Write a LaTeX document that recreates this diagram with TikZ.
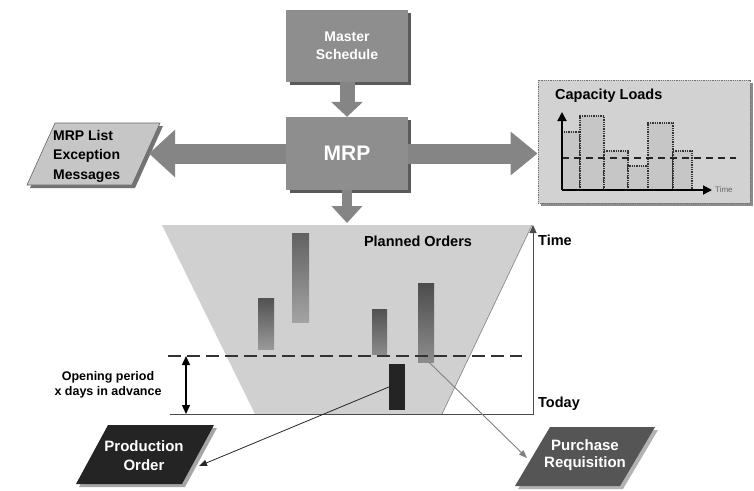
\documentclass[tikz,border=0pt]{standalone}
\usepackage{fontspec}
\setmainfont{Liberation Sans}
\usetikzlibrary{arrows.meta,calc}
\definecolor{boxgray}{HTML}{8E8E8E}
\definecolor{boxshadow}{HTML}{5A5A5A}
\definecolor{arrowgray}{HTML}{858585}
\definecolor{panelgray}{HTML}{D2D2D2}
\definecolor{funnelgray}{HTML}{D0D0D0}
\definecolor{listgray}{HTML}{C6C6C6}
\definecolor{axisgray}{HTML}{4A4A4A}
\definecolor{reqgray}{HTML}{555555}
\definecolor{prodblack}{HTML}{242424}
\tikzset{
  graybox/.style={fill=boxgray, text=white, font=\bfseries\fontsize{14}{18}\selectfont,
    align=center, inner sep=0pt},
  blockarrow/.style={draw=arrowgray, line width=#1},
  lbl/.style={font=\bfseries\fontsize{14.5}{19}\selectfont, inner sep=0pt},
  orderbar/.style={inner sep=0pt, draw=none},
  chartbar/.style={fill=panelgray!85!gray, draw=black!80, densely dotted, line width=1.3pt},
}
\begin{document}
\begin{tikzpicture}[x=1pt,y=-1pt]
\useasboundingbox (0,0) rectangle (754,490);
\fill[white] (0,0) rectangle (754,490);

% ---- master schedule and MRP blocks ----
\fill[boxshadow] (290,13) rectangle (411,85);
\node[graybox, minimum width=122pt, minimum height=72pt] (ms) at (347,46) {Master\\Schedule};
\fill[boxshadow] (290,120) rectangle (411,193);
\node[graybox, minimum width=122pt, minimum height=73pt,
      font=\bfseries\fontsize{21}{24}\selectfont] (mrp) at (347,153.5) {MRP};

\draw[blockarrow=15pt, -{Triangle[width=31pt,length=15pt]}, arrowgray] (ms.south) -- (mrp.north);

% ---- MRP list ----
\coordinate (listtip) at (149,152);
\fill[black!55] (58,126) -- (163,126) -- (135,188) -- (30,188) -- cycle;
\filldraw[fill=listgray, draw=black!60, line width=0.6pt] (55,123) -- (160,123) -- (132,185) -- (27,185) -- cycle;
\node[lbl, font=\bfseries\fontsize{14}{19.5}\selectfont, align=left, anchor=west] (list) at (53,156) {MRP List\\Exception\\Messages};
\draw[blockarrow=20pt, -{Triangle[width=46pt,length=26pt]}, arrowgray] (mrp.west) -- (mrp.west -| listtip);

% ---- capacity loads panel ----
\fill[black!45] (541,83) rectangle (753,206);
\node[fill=panelgray, draw=black!55, densely dotted, line width=0.8pt,
      minimum width=212pt, minimum height=123pt, inner sep=0pt] (cap) at (644,141.5) {};
\draw[blockarrow=20pt, -{Triangle[width=42pt,length=27pt]}, arrowgray] (mrp.east) -- (mrp.east -| cap.west);
\node[lbl, anchor=west] (captitle) at (555,96) {Capacity Loads};
\draw[chartbar] (562,190) rectangle (580,132);
\draw[chartbar] (580,190) rectangle (604,116);
\draw[chartbar] (604,190) rectangle (628,151);
\draw[chartbar] (628,190) rectangle (648,166);
\draw[chartbar] (648,190) rectangle (673,123);
\draw[chartbar] (673,190) rectangle (692,151);
\coordinate (corigin) at (562,190);
\coordinate (ctop) at (562,112);
\coordinate (cright) at (712,190);
\draw[black!85, line width=1.3pt, dash pattern=on 7pt off 5pt] (562,158) -- (736,158);
\draw[black, line width=1.8pt, -{Triangle[width=9pt,length=9pt]}] (corigin) -- (ctop);
\draw[black, line width=1.8pt, -{Triangle[width=9pt,length=9pt]}] (corigin) -- (cright);
\node[anchor=west, font=\fontsize{8}{9}\selectfont, text=black!60, inner sep=0pt] (ctime) at (715,190) {Time};

% ---- planned orders funnel ----
\coordinate (ftop) at (347,223);
\fill[funnelgray] (162,225) -- (532,225) -- (442,414) -- (255,414) -- cycle;
\draw[black!45, line width=0.7pt] (442,414) -- (532,225);
\draw[blockarrow=10pt, -{Triangle[width=30pt,length=17pt]}, arrowgray] (mrp.south) -- (ftop);
\node[lbl] (planned) at (418,241) {Planned Orders};

% time axis
\coordinate (axl) at (170,414);
\coordinate (axr) at (533,414);
\coordinate (axt) at (533,225);
\draw[axisgray, line width=1pt, -{Triangle[width=7pt,length=8pt]}] (axl) -- (axr) -- (axt);
\node[lbl, anchor=west] (ttime) at (538,240) {Time};
\node[lbl, anchor=west] (ttoday) at (538,404) {Today};

% planned order bars
\node[orderbar, top color=black!68, bottom color=black!40, minimum width=16pt, minimum height=51pt] (abar) at (266,323.5) {};
\node[orderbar, top color=black!62, bottom color=black!36, minimum width=17pt, minimum height=89pt] (bbar) at (300.5,277.5) {};
\node[orderbar, top color=black!68, bottom color=black!46, minimum width=15pt, minimum height=45pt] (cbar) at (379.5,331.5) {};
\node[orderbar, top color=black!70, bottom color=black!45, minimum width=16pt, minimum height=79pt] (dbar) at (426,322.5) {};

% opening horizon
\coordinate (dl) at (168,356);
\coordinate (dr) at (522,356);
\draw[black!80, line width=1.7pt, dash pattern=on 13pt off 6pt] (dl) -- (dr);
\node[orderbar, fill=prodblack, minimum width=16pt, minimum height=46pt] (ebar) at (397,387) {};

\coordinate (oa) at (186,356);
\coordinate (ob) at (186,414);
\draw[black, line width=1.3pt, {Triangle[width=8pt,length=9pt]}-{Triangle[width=8pt,length=9pt]}] (oa) -- (ob);
\node[lbl, font=\bfseries\fontsize{12.5}{15.5}\selectfont, align=center] (opening) at (108,385) {Opening period\\x days in advance};

% ---- resulting documents ----
\fill[black!35] (111,428) -- (217,428) -- (185,487) -- (79,487) -- cycle;
\fill[prodblack] (108,425) -- (214,425) -- (182,484) -- (76,484) -- cycle;
\node[lbl, text=white, font=\bfseries\fontsize{15}{19}\selectfont, align=center] (prod) at (144,456) {Production\\Order};

\fill[black!30] (553,430) -- (658,430) -- (623,489) -- (518,489) -- cycle;
\fill[reqgray] (550,427) -- (655,427) -- (620,486) -- (515,486) -- cycle;
\node[lbl, text=white, font=\bfseries\fontsize{15}{17}\selectfont, align=center] (req) at (585,455) {Purchase\\Requisition};

\coordinate (prodtip) at (199,466);
\coordinate (reqtip) at (527,458);
\draw[black!85, line width=0.8pt, -{Triangle[width=6pt,length=8pt]}] (ebar.west) -- (prodtip);
\draw[black!50, line width=0.9pt, -{Triangle[width=6pt,length=8pt]}] ([xshift=3pt]dbar.south) -- (reqtip);
\end{tikzpicture}
\end{document}
